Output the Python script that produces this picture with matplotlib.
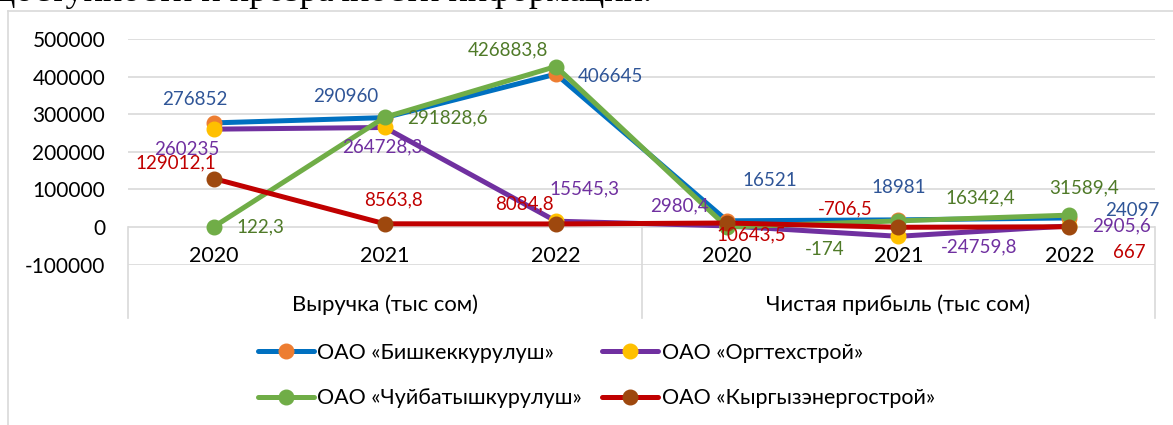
import matplotlib.pyplot as plt
from matplotlib.lines import Line2D

plt.rcParams['font.family'] = ['Lato', 'Open Sans', 'DejaVu Sans']

# data
years = ['2020', '2021', '2022', '2020', '2021', '2022']
groups = ['Выручка (тыс сом)', 'Чистая прибыль (тыс сом)']
names = ['ОАО «Бишкеккурулуш»', 'ОАО «Оргтехстрой»',
         'ОАО «Чуйбатышкурулуш»', 'ОАО «Кыргызэнергострой»']
bishkek = [276852, 290960, 406645, 16521, 18981, 24097]
orgteh = [260235, 264728.3, 15545.3, 2980.4, -24759.8, 2905.6]
chui = [122.3, 291828.6, 426883.8, -174, 16342.4, 31589.4]
kyrgyz = [129012.1, 8563.8, 8084.8, 10643.5, -706.5, 667]
series = [bishkek, orgteh, chui, kyrgyz]

# styles
line_colors = ['#0070C0', '#7030A0', '#70AD47', '#C00000']
marker_colors = ['#ED7D31', '#FFC000', '#70AD47', '#9E480E']
label_colors = ['#2F5597', '#7030A0', '#4F7A28', '#C00000']
# label offsets in pixels (dx right, dy up)
offsets = [
    [(-19, 23), (-39, 21), (55, -2), (43, 40), (0, 32), (63, 7)],
    [(-27, -20), (-2, -19), (29, 32), (-48, 20), (81, -11), (52, 0)],
    [(47, 0), (63, -1), (-48, 17), (98, -22), (82, 23), (15, 27)],
    [(-38, 16), (9, 24), (-31, 20), (24, -12), (-53, 18), (60, -26)],
]


def fmt(v):
    if v == int(v):
        return str(int(v))
    return f'{v:.1f}'.replace('.', ',')


fig = plt.figure(figsize=(11.73, 4.25), dpi=100)
ax = fig.add_axes([0.1091, 0.3774, 0.8756, 0.5308])

x = list(range(len(years)))
handles = []
for i, vals in enumerate(series):
    h, = ax.plot(x, vals, color=line_colors[i], linewidth=3.6, marker='o',
                 markersize=10.5, markerfacecolor=marker_colors[i],
                 markeredgecolor=marker_colors[i], solid_capstyle='round',
                 zorder=3 + i, label=names[i])
    handles.append(h)
    for j, v in enumerate(vals):
        dx, dy = offsets[i][j]
        ax.annotate(fmt(v), (x[j], v), xytext=(dx * 0.72, dy * 0.72),
                    textcoords='offset points', ha='center', va='center',
                    fontsize=13.5, color=label_colors[i], zorder=10,
                    annotation_clip=False)

ax.set_xlim(-0.5, 5.5)
ax.set_ylim(-100000, 500000)
ax.set_yticks(range(-100000, 500001, 100000))
ax.set_yticklabels([str(t) for t in range(-100000, 500001, 100000)])
ax.tick_params(axis='y', length=0, pad=16.5, labelsize=15)
ax.set_xticks([])
ax.grid(axis='y', color='#D9D9D9', linewidth=1.2, zorder=0)
for s in ax.spines.values():
    s.set_visible(False)

# category axis: years, groups and separators
for j, yr in enumerate(years):
    ax.text(x[j], -77000, yr, ha='center', va='center', fontsize=15.5)
for k, g in enumerate(groups):
    ax.text(1 + 3 * k, -207000, g, ha='center', va='center', fontsize=15.8)
for sx in [-0.5, 2.5, 5.5]:
    ax.plot([sx, sx], [0, -242000], color='#D9D9D9', linewidth=1.2,
            clip_on=False, zorder=1)

# chart area border
W, H = 1173, 425
fig.add_artist(Line2D([8 / W, 8 / W], [0, 1 - 11 / H], color='#D9D9D9',
                      linewidth=1.2))
fig.add_artist(Line2D([8 / W, 1], [1 - 11 / H, 1 - 11 / H], color='#D9D9D9',
                      linewidth=1.2))

# clipped text of the document above the chart
fig.text(652 / W, 1 - 1 / H, 'доступности и прозрачности информации.',
         family='Liberation Serif', fontsize=26, ha='right', va='baseline')

order = [0, 2, 1, 3]
fig.legend([handles[o] for o in order], [names[o] for o in order],
           ncol=2, loc='upper left', bbox_to_anchor=(258 / W, 1 - 343 / H),
           frameon=False, fontsize=15.5, handlelength=2.6,
           handletextpad=0.15, columnspacing=0.95, labelspacing=1.18,
           borderpad=0, borderaxespad=0, numpoints=1)

fig.savefig('out.png', dpi=100)
